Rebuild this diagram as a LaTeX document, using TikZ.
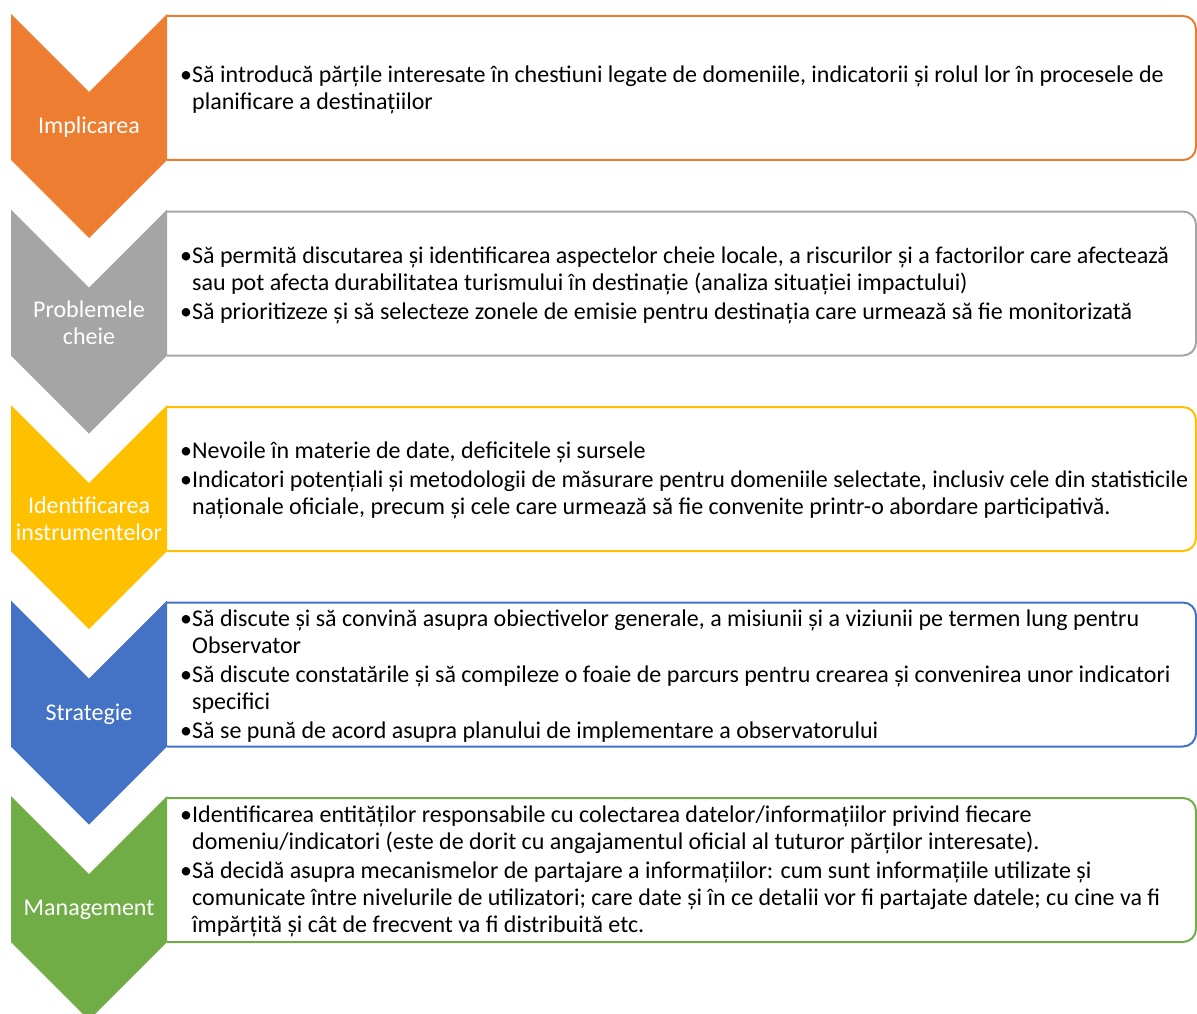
\documentclass[tikz,border=0pt]{standalone}
\usepackage{fontspec}
\setmainfont{Carlito}
\definecolor{cOrange}{HTML}{ED7D31}
\definecolor{cGray}{HTML}{A5A5A5}
\definecolor{cGold}{HTML}{FFC000}
\definecolor{cBlue}{HTML}{4472C4}
\definecolor{cGreen}{HTML}{70AD47}
\tikzset{
  chevshape/.style={fill=#1, draw=none},
  boxframe/.style={draw=#1, line width=2pt, fill=white, rounded corners=13pt},
  lbl/.style={text=white, font=\fontsize{24}{27}\selectfont, align=center, inner sep=0pt},
  body/.style={anchor=west, align=left, font=\fontsize{24}{27}\selectfont, inner sep=0pt, text=black},
}
\newcommand\bulmark{\makebox[12pt][l]{•}}
\newcommand\hangsp{\hspace*{12pt}}
\newcommand\stagerow[5]{%
  \draw[boxframe=#3] (167,{#2+146}) -- (1196,{#2+146}) -- (1196,{#2+2}) -- (167,{#2+2});
  \fill[chevshape=#3] (11,#2) -- ++(78,78) -- ++(78,-78) -- ++(0,146) -- ++(-78,78) -- ++(-78,-78) -- cycle;
  \node[lbl] (#1-l) at (89,{#2+113.5}) {#4};
  \node[body] (#1-t) at (180,{#2+75.5}) {#5};
}
\begin{document}
\begin{tikzpicture}[x=1pt,y=-1pt]
\useasboundingbox (0,0) rectangle (1197,1014);
\stagerow{s1}{14}{cOrange}{Implicarea}{\bulmark Să introducă părțile interesate în chestiuni legate de domeniile, indicatorii și rolul lor în procesele de\\\hangsp planificare a destinațiilor}
\stagerow{s2}{209.5}{cGray}{Problemele\\cheie}{\bulmark Să permită discutarea și identificarea aspectelor cheie locale, a riscurilor și a factorilor care afectează\\\hangsp sau pot afecta durabilitatea turismului în destinație (analiza situației impactului)\\[2pt]\bulmark Să prioritizeze și să selecteze zonele de emisie pentru destinația care urmează să fie monitorizată}
\stagerow{s3}{405}{cGold}{Identificarea\\instrumentelor}{\bulmark Nevoile în materie de date, deficitele și sursele\\[2pt]\bulmark Indicatori potențiali și metodologii de măsurare pentru domeniile selectate, inclusiv cele din statisticile\\\hangsp naționale oficiale, precum și cele care urmează să fie convenite printr-o abordare participativă.}
\stagerow{s4}{600.5}{cBlue}{Strategie}{\bulmark Să discute și să convină asupra obiectivelor generale, a misiunii și a viziunii pe termen lung pentru\\\hangsp Observator\\[2pt]\bulmark Să discute constatările și să compileze o foaie de parcurs pentru crearea și convenirea unor indicatori\\\hangsp specifici\\[2pt]\bulmark Să se pună de acord asupra planului de implementare a observatorului}
\stagerow{s5}{796}{cGreen}{Management}{\bulmark Identificarea entităților responsabile cu colectarea datelor/informațiilor privind fiecare\\\hangsp domeniu/indicatori (este de dorit cu angajamentul oficial al tuturor părților interesate).\\[2pt]\bulmark Să decidă asupra mecanismelor de partajare a informațiilor: cum sunt informațiile utilizate și\\\hangsp comunicate între nivelurile de utilizatori; care date și în ce detalii vor fi partajate datele; cu cine va fi\\\hangsp împărțită și cât de frecvent va fi distribuită etc.}
\end{tikzpicture}
\end{document}
